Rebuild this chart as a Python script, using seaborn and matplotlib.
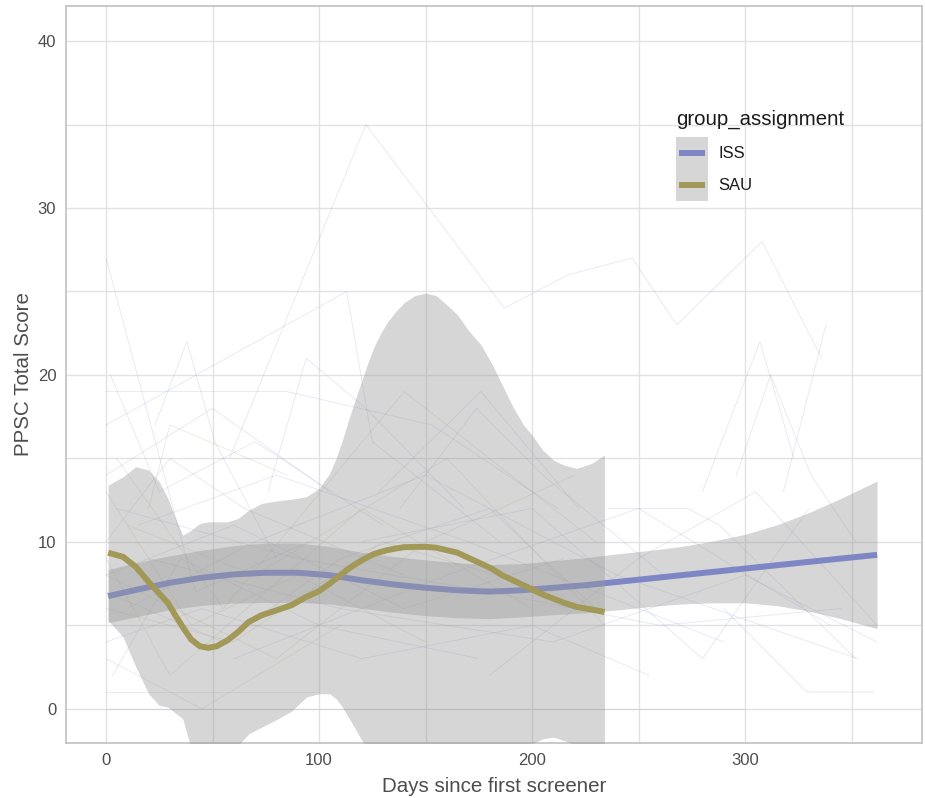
import numpy as np
import pandas as pd
import matplotlib
matplotlib.use("Agg")
import matplotlib.pyplot as plt
from matplotlib.lines import Line2D
from matplotlib.patches import Rectangle
from matplotlib.ticker import MultipleLocator
import seaborn as sns

# ---- groups -------------------------------------------------------------
groups = ["ISS", "SAU"]
group_colors = ["#7E86C6", "#A29858"]

# ---- individual PPSC trajectories ----------------------------------------
participant_group = [
    "ISS", "ISS", "ISS", "ISS", "ISS", "ISS", "ISS", "ISS", "ISS", "ISS",
    "ISS", "ISS", "ISS", "ISS", "ISS", "ISS", "ISS", "ISS", "ISS", "ISS",
    "ISS", "ISS", "ISS", "ISS", "ISS", "ISS", "ISS", "ISS", "ISS",
    "SAU", "SAU", "SAU", "SAU", "SAU", "SAU", "SAU", "SAU",
]
participant_days = [
    [0, 42, 95],
    [58, 122, 187, 217, 247, 268, 308, 336],
    [0, 85, 153, 212],
    [0, 113, 125, 185],
    [23, 38, 51, 80],
    [76, 94, 122, 168],
    [128, 176, 222],
    [138, 174, 205, 262],
    [280, 307, 323],
    [296, 312, 331, 352],
    [318, 338],
    [0, 300],
    [0, 100],
    [290, 329, 361],
    [0, 45, 120, 200, 255],
    [0, 60, 140, 215],
    [5, 90, 180, 260, 345],
    [10, 70, 150, 240, 353],
    [3, 35, 100, 175],
    [15, 80, 170, 290],
    [0, 50, 105],
    [20, 110, 210, 300, 362],
    [60, 160, 250, 340],
    [236, 273, 288, 352],
    [2, 25, 70, 130],
    [0, 55, 110, 180, 230],
    [180, 250, 305, 362],
    [120, 200, 280, 330],
    [0, 30, 65, 140],
    [0, 40, 90, 150],
    [0, 30, 120, 200],
    [5, 55, 140, 230],
    [0, 45, 110],
    [10, 70, 160, 234],
    [0, 60, 130, 210],
    [20, 30, 85],
    [0, 80, 150, 220],
]
participant_scores = [
    [27, 7, 10],
    [15, 35, 24, 26, 27, 23, 28, 21],
    [19, 19, 17, 12],
    [17, 25, 16, 10],
    [17, 22, 16, 9],
    [13, 21, 18, 12],
    [13, 19, 12],
    [12, 18, 14, 8],
    [13, 22, 15],
    [14, 20, 14, 10],
    [13, 23],
    [0, 0],
    [1, 1],
    [6, 1, 1],
    [4, 6, 3, 5, 2],
    [8, 11, 6, 9],
    [12, 9, 7, 5, 6],
    [6, 10, 14, 8, 3],
    [2, 9, 5, 3],
    [11, 14, 10, 4],
    [14, 18, 13],
    [9, 6, 4, 8, 4],
    [3, 8, 12, 5],
    [12, 12, 11, 3],
    [20, 13, 16, 11],
    [7, 4, 9, 12, 6],
    [2, 9, 13, 5],
    [10, 12, 3, 12],
    [10, 15, 12, 8],
    [13, 5, 8, 4],
    [9, 2, 12, 6],
    [15, 6, 19, 10],
    [3, 0, 5],
    [11, 8, 15, 5],
    [6, 4, 10, 7],
    [12, 17, 14],
    [8, 3, 10, 14],
]

# ---- smoothed group trends with confidence half-widths ------------------
iss_days = [1, 15, 30, 45, 60, 75, 90, 105, 120, 135, 150, 165, 180,
            195, 210, 225, 240, 255, 270, 285, 300, 315, 330, 345, 362]
iss_fit = [6.75, 7.15, 7.55, 7.85, 8.05, 8.15, 8.15, 8.0, 7.7, 7.45, 7.25,
           7.1, 7.02, 7.1, 7.25, 7.4, 7.6, 7.8, 8.0, 8.2, 8.4, 8.6, 8.8,
           9.0, 9.22]
iss_ci = [1.6, 1.62, 1.62, 1.65, 1.72, 1.78, 1.78, 1.72, 1.68, 1.67, 1.67,
          1.65, 1.62, 1.6, 1.62, 1.65, 1.68, 1.68, 1.72, 1.85, 2.05, 2.42,
          2.95, 3.6, 4.42]

sau_days = [1, 8, 14, 20, 25, 29, 33, 36, 40, 44, 48, 52, 57, 62, 67, 73,
            80, 87, 94, 100, 105, 108, 111, 114, 117, 120, 123, 126, 129,
            132, 136, 140, 145, 150, 155, 160, 165, 170, 176, 181, 186, 191,
            196, 200, 205, 210, 215, 221, 228, 234]
sau_fit = [9.35, 9.1, 8.5, 7.6, 6.9, 6.35, 5.5, 4.9, 4.15, 3.75, 3.65, 3.75,
           4.1, 4.6, 5.2, 5.6, 5.9, 6.2, 6.7, 7.05, 7.5, 7.8, 8.1, 8.4,
           8.65, 8.88, 9.1, 9.28, 9.4, 9.5, 9.6, 9.68, 9.7, 9.7, 9.65, 9.5,
           9.35, 9.05, 8.7, 8.4, 8.0, 7.7, 7.4, 7.15, 6.85, 6.6, 6.35, 6.1,
           5.95, 5.8]
sau_ci = [4.05, 4.8, 6.0, 6.7, 6.7, 6.25, 5.8, 5.5, 6.55, 7.35, 7.55, 7.45,
          7.1, 6.8, 6.7, 6.7, 6.55, 6.35, 6.0, 6.15, 6.6, 7.2, 8.0, 8.95,
          9.85, 10.75, 11.65, 12.45, 13.1, 13.65, 14.2, 14.65, 15.05, 15.2,
          15.1, 14.7, 14.25, 13.65, 13.1, 12.3, 11.4, 10.4, 9.6, 9.25, 8.65,
          8.3, 8.25, 8.3, 8.75, 9.4]

x_ticks = [0, 100, 200, 300]
y_ticks = [0, 10, 20, 30, 40]

# ---- long table of trajectories ------------------------------------------
rows = []
for pid, (grp, days, scores) in enumerate(zip(participant_group,
                                              participant_days,
                                              participant_scores)):
    for d, s in zip(days, scores):
        rows.append({"pid": pid, "group_assignment": grp,
                     "days": d, "ppsc": s})
traj = pd.DataFrame(rows)

trends = {
    "ISS": (np.array(iss_days), np.array(iss_fit), np.array(iss_ci)),
    "SAU": (np.array(sau_days), np.array(sau_fit), np.array(sau_ci)),
}

# ---- style -----------------------------------------------------------------
sns.set_style("white")
plt.rcParams["font.family"] = ["Liberation Sans", "DejaVu Sans"]

palette = dict(zip(groups, group_colors))
ribbon_color = "#999999"
ribbon_alpha = 0.4
key_fill = "#D6D6D6"
grid_color = "#E2E2E2"
frame_color = "#C0C0C0"
text_grey = "#4D4D4D"
trend_lw = 4.3


class SmoothKeyHandler:
    """Legend key: grey ribbon swatch with the trend line across its middle."""

    def legend_artist(self, legend, orig_handle, fontsize, handlebox):
        x0, y0 = -handlebox.xdescent, -handlebox.ydescent
        w, h = handlebox.width, handlebox.height
        tr = handlebox.get_transform()
        swatch = Rectangle((x0, y0), w, h, facecolor=key_fill,
                           edgecolor="none", transform=tr)
        pad = 2.2
        line = Line2D([x0 + pad, x0 + w - pad], [y0 + h / 2] * 2,
                      color=orig_handle.get_color(), lw=trend_lw,
                      solid_capstyle="butt", transform=tr)
        handlebox.add_artist(swatch)
        handlebox.add_artist(line)
        return line


fig = plt.figure(figsize=(9.25, 7.98), dpi=100)
ax = fig.add_axes([66 / 925, 1 - 743 / 798, (922 - 66) / 925, (743 - 6) / 798])

# faint per-participant lines
sns.lineplot(data=traj, x="days", y="ppsc", hue="group_assignment",
             units="pid", estimator=None, palette=palette, hue_order=groups,
             alpha=0.2, lw=0.6, legend=False, ax=ax)

# group trends: ribbon then line, per group
for grp in groups:
    d, fit, ci = trends[grp]
    ax.fill_between(d, fit - ci, fit + ci, color=ribbon_color,
                    alpha=ribbon_alpha, lw=0, zorder=3)
    sns.lineplot(x=d, y=fit, color=palette[grp], lw=trend_lw, ax=ax,
                 zorder=3, solid_capstyle="butt")

ax.set_xlim(-18.8, 383.1)
ax.set_ylim(-2.05, 42.1)
ax.set_xticks(x_ticks)
ax.set_yticks(y_ticks)
ax.xaxis.set_minor_locator(MultipleLocator(50))
ax.yaxis.set_minor_locator(MultipleLocator(5))
ax.set_axisbelow(True)
ax.grid(which="major", color=grid_color, lw=1.0)
ax.grid(which="minor", color=grid_color, lw=1.0)
ax.tick_params(which="major", length=3, width=1.0, color=frame_color,
               labelsize=12, labelcolor=text_grey, pad=4, direction="out")
ax.tick_params(which="minor", length=0)
for sp in ax.spines.values():
    sp.set_color(frame_color)
    sp.set_linewidth(1.2)

ax.set_xlabel("Days since first screener", fontsize=14.8, color=text_grey,
              labelpad=6.5)
ax.set_ylabel("PPSC Total Score", fontsize=14.8, color=text_grey,
              labelpad=3)

# legend
handles = [Line2D([], [], color=c) for c in group_colors]
leg = ax.legend(handles, groups, handler_map={Line2D: SmoothKeyHandler()},
                loc="upper left", bbox_to_anchor=(676 / 925, 1 - 136.7 / 798),
                bbox_transform=fig.transFigure, frameon=False,
                borderpad=0, borderaxespad=0, handlelength=1.92,
                handleheight=2.577, handletextpad=0.6, labelspacing=0,
                fontsize=12)
for t in leg.get_texts():
    t.set_color("#1A1A1A")
fig.text(676 / 925, 1 - 125 / 798, "group_assignment", ha="left",
         va="baseline", fontsize=14.7, color="#1A1A1A")

fig.savefig("out.png", dpi=100)
